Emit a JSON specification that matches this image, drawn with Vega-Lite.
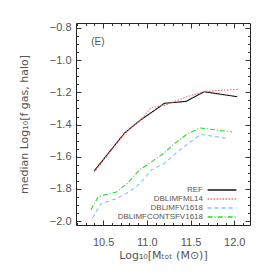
{
  "$schema": "https://vega.github.io/schema/vega-lite/v6.json",
  "width": 174,
  "height": 202,
  "autosize": "none",
  "padding": {"left": 76, "top": 23, "right": 24, "bottom": 49},
  "background": "white",
  "config": {
    "view": {"stroke": "#222", "strokeWidth": 1},
    "axis": {"domain": false, "grid": false, "labelFont": "Liberation Sans", "labelFontSize": 11, "labelColor": "#555", "titleFont": "DejaVu Sans", "titleFontSize": 11, "titleColor": "#555", "titleFontWeight": "normal", "tickColor": "#333", "tickWidth": 1}
  },
  "data": {"values": [
    {"s": "REF", "x": 10.398, "y": -1.688},
    {"s": "REF", "x": 10.747, "y": -1.452},
    {"s": "REF", "x": 10.917, "y": -1.376},
    {"s": "REF", "x": 11.05, "y": -1.326},
    {"s": "REF", "x": 11.201, "y": -1.268},
    {"s": "REF", "x": 11.448, "y": -1.256},
    {"s": "REF", "x": 11.656, "y": -1.196},
    {"s": "REF", "x": 12.034, "y": -1.227},
    {"s": "DBLIMFML14", "x": 10.398, "y": -1.696},
    {"s": "DBLIMFML14", "x": 10.747, "y": -1.455},
    {"s": "DBLIMFML14", "x": 10.917, "y": -1.378},
    {"s": "DBLIMFML14", "x": 11.05, "y": -1.294},
    {"s": "DBLIMFML14", "x": 11.201, "y": -1.281},
    {"s": "DBLIMFML14", "x": 11.448, "y": -1.229},
    {"s": "DBLIMFML14", "x": 11.656, "y": -1.194},
    {"s": "DBLIMFML14", "x": 12.042, "y": -1.181},
    {"s": "DBLIMFV1618", "x": 10.38, "y": -1.98},
    {"s": "DBLIMFV1618", "x": 10.474, "y": -1.893},
    {"s": "DBLIMFV1618", "x": 10.656, "y": -1.859},
    {"s": "DBLIMFV1618", "x": 10.792, "y": -1.819},
    {"s": "DBLIMFV1618", "x": 10.917, "y": -1.769},
    {"s": "DBLIMFV1618", "x": 11.054, "y": -1.682},
    {"s": "DBLIMFV1618", "x": 11.19, "y": -1.645},
    {"s": "DBLIMFV1618", "x": 11.349, "y": -1.57},
    {"s": "DBLIMFV1618", "x": 11.485, "y": -1.514},
    {"s": "DBLIMFV1618", "x": 11.618, "y": -1.461},
    {"s": "DBLIMFV1618", "x": 11.906, "y": -1.485},
    {"s": "DBLIMFCONTSFV1618", "x": 10.36, "y": -1.93},
    {"s": "DBLIMFCONTSFV1618", "x": 10.446, "y": -1.847},
    {"s": "DBLIMFCONTSFV1618", "x": 10.652, "y": -1.819},
    {"s": "DBLIMFCONTSFV1618", "x": 10.781, "y": -1.763},
    {"s": "DBLIMFCONTSFV1618", "x": 10.917, "y": -1.682},
    {"s": "DBLIMFCONTSFV1618", "x": 11.054, "y": -1.632},
    {"s": "DBLIMFCONTSFV1618", "x": 11.201, "y": -1.576},
    {"s": "DBLIMFCONTSFV1618", "x": 11.326, "y": -1.514},
    {"s": "DBLIMFCONTSFV1618", "x": 11.463, "y": -1.458},
    {"s": "DBLIMFCONTSFV1618", "x": 11.61, "y": -1.421},
    {"s": "DBLIMFCONTSFV1618", "x": 11.974, "y": -1.446}
  ]},
  "resolve": {"axis": {"x": "independent", "y": "independent"}},
  "layer": [
    {
      "mark": {"type": "line", "strokeWidth": 1.1, "clip": true},
      "encoding": {
        "x": {"field": "x", "type": "quantitative",
          "scale": {"domain": [10.19, 12.18], "nice": false, "zero": false},
          "axis": {"orient": "bottom", "title": "Log₁₀[Mₜₒₜ (M⊙)]", "titlePadding": 2,
            "values": [10.2,10.3,10.4,10.5,10.6,10.7,10.8,10.9,11.0,11.1,11.2,11.3,11.4,11.5,11.6,11.7,11.8,11.9,12.0,12.1],
            "labelExpr": "abs(datum.value*2 - round(datum.value*2)) < 0.001 ? format(datum.value, '.1f') : ''",
            "tickSize": {"condition": {"test": "abs(datum.value*2 - round(datum.value*2)) < 0.001", "value": -5}, "value": -2.5},
            "labelPadding": 16, "labelFlush": false}},
        "y": {"field": "y", "type": "quantitative",
          "scale": {"domain": [-2.024, -0.769], "nice": false, "zero": false},
          "axis": {"orient": "left", "title": "median Log₁₀[f gas, halo]", "titlePadding": 20,
            "values": [-2.0,-1.95,-1.9,-1.85,-1.8,-1.75,-1.7,-1.65,-1.6,-1.55,-1.5,-1.45,-1.4,-1.35,-1.3,-1.25,-1.2,-1.15,-1.1,-1.05,-1.0,-0.95,-0.9,-0.85,-0.8],
            "labelExpr": "abs(datum.value*5 - round(datum.value*5)) < 0.001 ? format(datum.value, '.1f') : ''",
            "tickSize": {"condition": {"test": "abs(datum.value*5 - round(datum.value*5)) < 0.001", "value": -5}, "value": -2.5},
            "labelPadding": 10, "labelFlush": false}},
        "color": {"field": "s", "type": "nominal",
          "scale": {"domain": ["REF", "DBLIMFML14", "DBLIMFV1618", "DBLIMFCONTSFV1618"], "range": ["#111111", "#ff6a6a", "#7ec8f2", "#22e022"]},
          "legend": {"orient": "none", "legendX": 141, "legendY": 162, "title": null, "symbolType": "M-3.6,0H3.6", "symbolSize": 64, "symbolStrokeWidth": 1.5, "labelAlign": "right", "labelOffset": -24, "labelFont": "Liberation Sans", "labelFontSize": 8, "labelColor": "#555", "rowPadding": 0, "labelLimit": 200}},
        "strokeDash": {"field": "s", "type": "nominal",
          "scale": {"domain": ["REF", "DBLIMFML14", "DBLIMFV1618", "DBLIMFCONTSFV1618"], "range": [[1, 0], [1.5, 1.5], [4, 3], [5, 2, 1, 2]]},
          "legend": {"orient": "none", "legendX": 141, "legendY": 162, "title": null, "symbolType": "M-3.6,0H3.6", "symbolSize": 64, "symbolStrokeWidth": 1.5, "labelAlign": "right", "labelOffset": -24, "labelFont": "Liberation Sans", "labelFontSize": 8, "labelColor": "#555", "rowPadding": 0, "labelLimit": 200}}
      }
    },
    {
      "data": {"values": [{"label": "(E)"}]},
      "mark": {"type": "text", "fontSize": 10, "font": "Liberation Sans", "fill": "#555", "fontWeight": "normal"},
      "encoding": {
        "x": {"datum": 10.44, "type": "quantitative",
          "axis": {"orient": "top", "title": null, "labels": false,
            "values": [10.2,10.3,10.4,10.5,10.6,10.7,10.8,10.9,11.0,11.1,11.2,11.3,11.4,11.5,11.6,11.7,11.8,11.9,12.0,12.1],
            "tickSize": {"condition": {"test": "abs(datum.value*2 - round(datum.value*2)) < 0.001", "value": -5}, "value": -2.5}}},
        "y": {"datum": -0.885, "type": "quantitative",
          "axis": {"orient": "right", "title": null, "labels": false,
            "values": [-2.0,-1.95,-1.9,-1.85,-1.8,-1.75,-1.7,-1.65,-1.6,-1.55,-1.5,-1.45,-1.4,-1.35,-1.3,-1.25,-1.2,-1.15,-1.1,-1.05,-1.0,-0.95,-0.9,-0.85,-0.8],
            "tickSize": {"condition": {"test": "abs(datum.value*5 - round(datum.value*5)) < 0.001", "value": -5}, "value": -2.5}}},
        "text": {"field": "label", "type": "nominal"}
      }
    }
  ]
}
